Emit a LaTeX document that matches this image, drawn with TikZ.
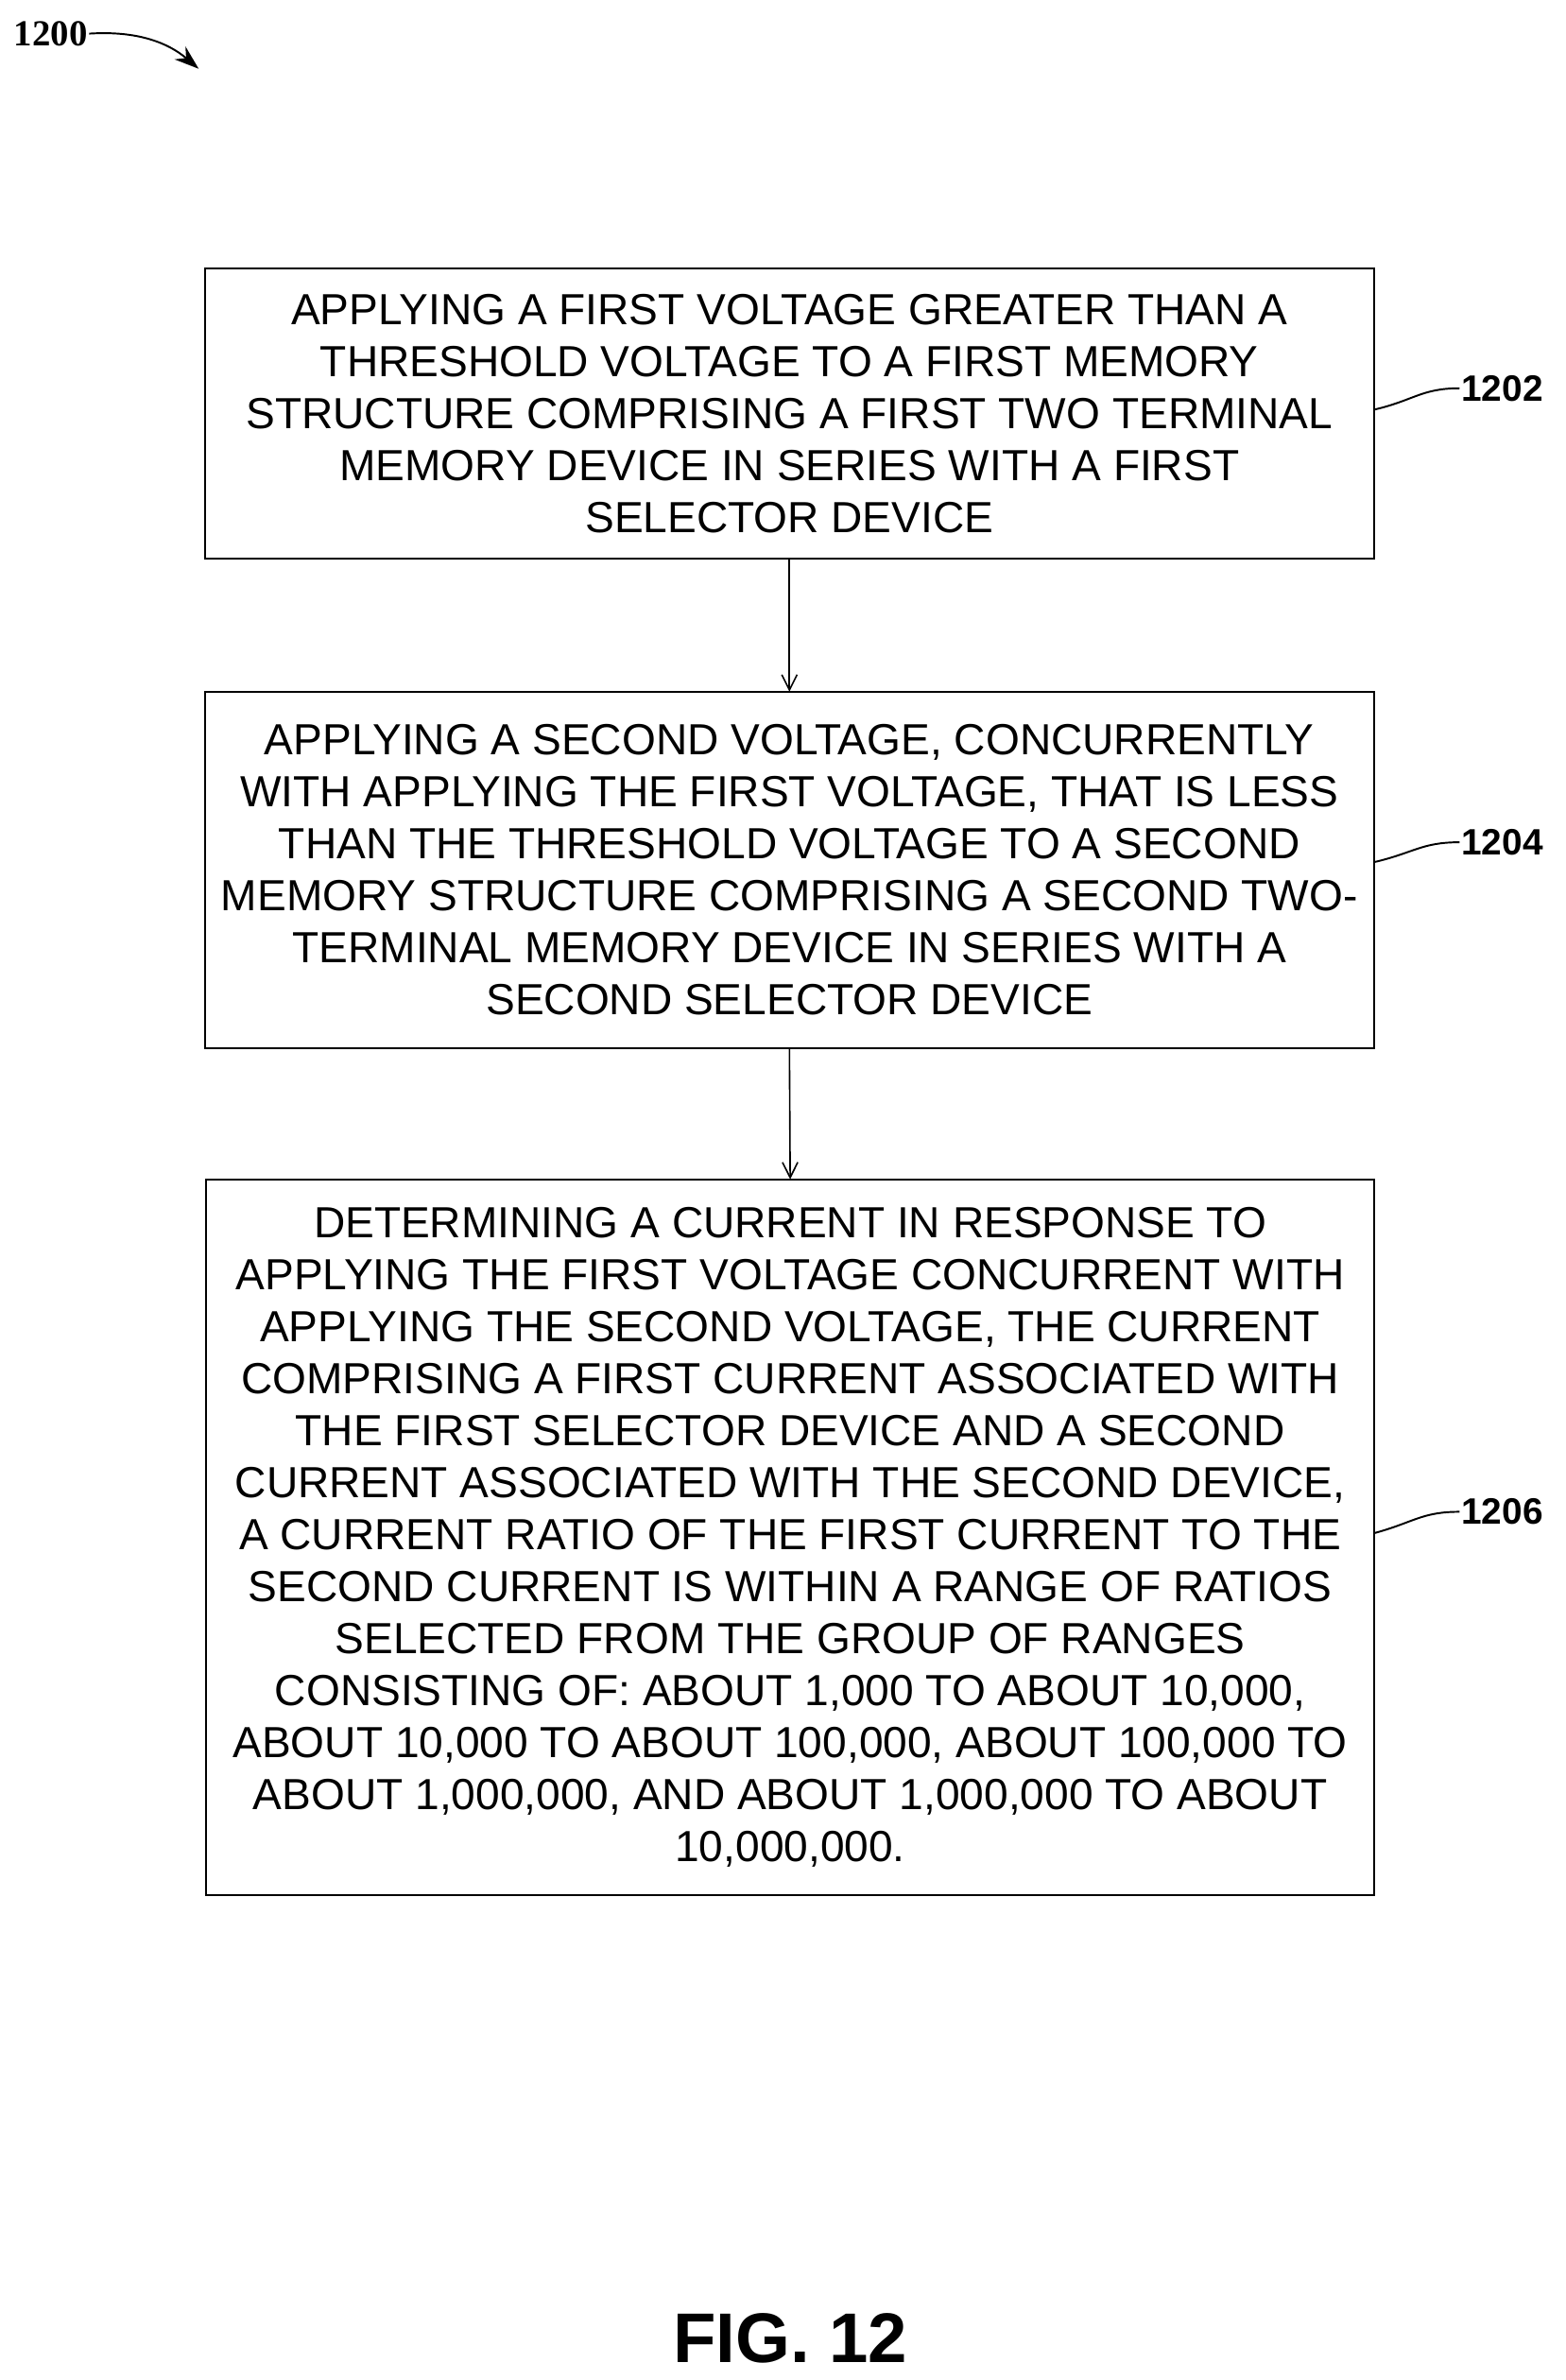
\documentclass[tikz,border=0pt]{standalone}
\usepackage{fontspec}
\setmainfont{Liberation Sans}
\newfontfamily\serifbold{Liberation Serif}
\usetikzlibrary{arrows.meta}
\begin{document}
\begin{tikzpicture}[x=1pt,y=-1pt,
  box/.style={draw,line width=1.2pt,inner sep=0pt,outer sep=0pt,align=center,font=\fontsize{28.5}{34}\selectfont},
  lab/.style={font=\fontsize{24}{28}\selectfont\bfseries},
  arr/.style={line width=1pt,-{Straight Barb[length=10pt,width=10pt]}}]
\useasboundingbox (0,0) rectangle (1024,1557);
\node[box,minimum width=765pt,minimum height=190pt] (b1) at (516.5,270.5) {APPLYING A FIRST VOLTAGE GREATER THAN A\\THRESHOLD VOLTAGE TO A FIRST MEMORY\\STRUCTURE COMPRISING A FIRST TWO TERMINAL\\MEMORY DEVICE IN SERIES WITH A FIRST\\SELECTOR DEVICE};
\node[box,minimum width=765pt,minimum height=233pt] (b2) at (516.5,569) {APPLYING A SECOND VOLTAGE, CONCURRENTLY\\WITH APPLYING THE FIRST VOLTAGE, THAT IS LESS\\THAN THE THRESHOLD VOLTAGE TO A SECOND\\MEMORY STRUCTURE COMPRISING A SECOND TWO-\\TERMINAL MEMORY DEVICE IN SERIES WITH A\\SECOND SELECTOR DEVICE};
\node[box,minimum width=764pt,minimum height=468pt] (b3) at (517,1005.5) {DETERMINING A CURRENT IN RESPONSE TO\\APPLYING THE FIRST VOLTAGE CONCURRENT WITH\\APPLYING THE SECOND VOLTAGE, THE CURRENT\\COMPRISING A FIRST CURRENT ASSOCIATED WITH\\THE FIRST SELECTOR DEVICE AND A SECOND\\CURRENT ASSOCIATED WITH THE SECOND DEVICE,\\A CURRENT RATIO OF THE FIRST CURRENT TO THE\\SECOND CURRENT IS WITHIN A RANGE OF RATIOS\\SELECTED FROM THE GROUP OF RANGES\\CONSISTING OF: ABOUT 1,000 TO ABOUT 10,000,\\ABOUT 10,000 TO ABOUT 100,000, ABOUT 100,000 TO\\ABOUT 1,000,000, AND ABOUT 1,000,000 TO ABOUT\\10,000,000.};
\draw[arr] (b1.south) -- (b2.north);
\draw[arr] (b2.south) -- (b3.north);
\node[lab,anchor=west,inner sep=1pt] (l1) at (955,254) {1202};
\node[lab,anchor=west,inner sep=1pt] (l2) at (955,551) {1204};
\node[lab,anchor=west,inner sep=1pt] (l3) at (955,989) {1206};
\draw[line width=1.2pt] (b1.east|-0,268) .. controls (925,262) and (930,254) .. (l1.west);
\draw[line width=1.2pt] (b2.east|-0,564) .. controls (925,558) and (930,551) .. (l2.west);
\draw[line width=1.2pt] (b3.east|-0,1003) .. controls (925,996) and (930,989) .. (l3.west);
\node[font=\fontsize{24}{28}\selectfont\serifbold\bfseries,anchor=west,inner sep=1pt] (t) at (8,22) {1200};
\coordinate (ta) at (130,45);
\draw[line width=1.2pt,-{Stealth[length=16pt,width=11pt]}] (t.east) .. controls (90,20) and (110,28) .. (ta);
\node[font=\fontsize{46}{50}\selectfont\bfseries] (fig) at (517,1530) {FIG. 12};
\end{tikzpicture}
\end{document}
